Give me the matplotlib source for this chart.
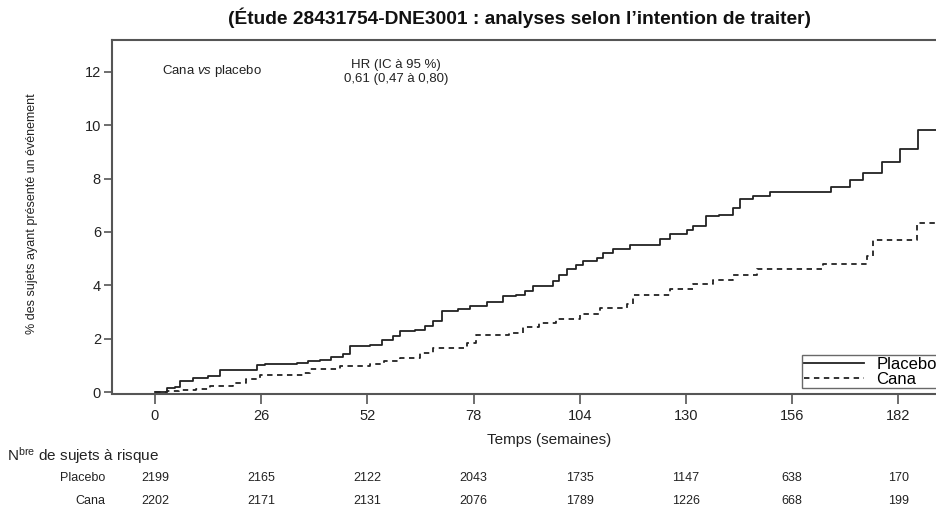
import matplotlib
matplotlib.use("Agg")
import matplotlib.pyplot as plt
from matplotlib import font_manager

# regular Arial look-alike everywhere, narrow bold for the title
names = {f.name for f in font_manager.fontManager.ttflist}
narrow = "Liberation Sans Narrow" if "Liberation Sans Narrow" in names else "Liberation Sans"
plt.rcParams['font.family'] = ['Liberation Sans', 'DejaVu Sans']
plt.rcParams['mathtext.fontset'] = 'custom'
plt.rcParams['mathtext.rm'] = 'Liberation Sans'
plt.rcParams['mathtext.it'] = 'Liberation Sans:italic'

# Kaplan-Meier steps (weeks, % with event)
placebo_t = [0, 2.9, 4.9, 6.1, 9.4, 13.0, 15.9, 24.9, 27.0, 34.7, 37.5, 40.4, 43.0, 46.1, 47.7,
             52.6, 55.5, 58.3, 60.0, 63.6, 66.0, 68.1, 70.2, 74.2, 77.1, 81.2, 85.3, 88.5,
             90.5, 92.6, 97.5, 99.0, 100.8, 103.0, 104.9, 108.1, 109.7, 112.2, 116.3, 123.6,
             126.1, 130.2, 131.8, 135.0, 138.2, 141.6, 143.2, 146.5, 150.6, 165.6, 170.1,
             173.4, 177.9, 182.4, 186.9, 191.5]
placebo_y = [0, 0.16, 0.21, 0.42, 0.55, 0.62, 0.83, 1.02, 1.05, 1.10, 1.17, 1.23, 1.32, 1.42, 1.73,
             1.79, 1.95, 2.10, 2.29, 2.35, 2.50, 2.67, 3.04, 3.12, 3.22, 3.38, 3.60, 3.66,
             3.80, 3.97, 4.16, 4.38, 4.60, 4.75, 4.91, 5.03, 5.22, 5.35, 5.53, 5.72,
             5.91, 6.06, 6.22, 6.59, 6.65, 6.90, 7.24, 7.34, 7.49, 7.69, 7.96,
             8.21, 8.61, 9.11, 9.83, 9.83]

cana_t = [0, 3.0, 6.0, 10.0, 13.5, 19.2, 22.4, 25.7, 36.3, 37.9, 45.3, 52.6, 56.0, 60.0, 64.9,
          68.1, 76.3, 78.7, 86.7, 90.2, 94.0, 98.3, 104.0, 108.9, 115.5, 117.1, 126.1, 131.8,
          136.7, 141.6, 147.3, 163.6, 174.2, 175.8, 186.5, 191.5]
cana_y = [0, 0.05, 0.10, 0.12, 0.24, 0.36, 0.51, 0.67, 0.72, 0.86, 0.98, 1.08, 1.18, 1.30, 1.46,
          1.67, 1.85, 2.13, 2.23, 2.45, 2.58, 2.75, 2.92, 3.17, 3.29, 3.63, 3.85, 4.04,
          4.20, 4.41, 4.60, 4.79, 5.10, 5.69, 6.32, 6.32]

weeks = [0, 26, 52, 78, 104, 130, 156, 182]
risk_placebo = [2199, 2165, 2122, 2043, 1735, 1147, 638, 170]
risk_cana = [2202, 2171, 2131, 2076, 1789, 1226, 668, 199]

W, H = 936, 514
fig = plt.figure(figsize=(W / 100, H / 100), dpi=100)
ax = fig.add_axes([112 / W, 1 - 393.5 / H, 1 - 112 / W, (393.5 - 40) / H])

ink = '#222222'
ax.step(placebo_t, placebo_y, where='post', color=ink, lw=1.3, label='Placebo')
ax.step(cana_t, cana_y, where='post', color=ink, lw=1.3, ls=(0, (3, 2.5)), label='Cana')

ax.set_xlim(-10.5, 191.2)
ax.set_ylim(-0.04, 13.18)
ax.set_xticks(weeks)
ax.set_yticks([0, 2, 4, 6, 8, 10, 12])
ax.tick_params(axis='x', length=7, width=1.2, color='#555555', labelsize=10.5, pad=4, labelcolor=ink)
ax.tick_params(axis='y', length=6, width=1.2, color='#555555', labelsize=10.5, pad=2, labelcolor=ink)
for s in ['left', 'top', 'bottom']:
    ax.spines[s].set_color('#555555')
    ax.spines[s].set_linewidth(1.5)
ax.spines['right'].set_visible(False)

leg = ax.legend(loc='upper left', bbox_to_anchor=(802 / W, 1 - 355 / H),
                bbox_transform=fig.transFigure, handlelength=3.6,
                handletextpad=0.75, borderpad=0.1, labelspacing=0.0, fancybox=False,
                frameon=True, borderaxespad=0, prop={'family': 'Liberation Sans', 'size': 12})
leg.get_frame().set_edgecolor('#444444')
leg.get_frame().set_linewidth(1.0)

fig.text(520 / W, 1 - 18 / H, "(Étude 28431754-DNE3001 : analyses selon l\u2019intention de traiter)",
         ha='center', va='center', fontsize=13.8, fontweight='bold', color='#111111',
         family=[narrow, 'DejaVu Sans'])
fig.text(162 / W, 1 - 71 / H, "Cana $\\it{vs}$ placebo", ha='left', va='center', fontsize=9.5,
         color=ink)
fig.text(396 / W, 1 - 65 / H, "HR (IC à 95 %)", ha='center', va='center', fontsize=9.5, color=ink)
fig.text(396 / W, 1 - 79 / H, "0,61 (0,47 à 0,80)", ha='center', va='center', fontsize=9.5, color=ink)
fig.text(32 / W, 1 - 214 / H, "% des sujets ayant présenté un événement", rotation=90,
         ha='center', va='center', fontsize=9, color=ink)
fig.text(549 / W, 1 - 440 / H, "Temps (semaines)", ha='center', va='center', fontsize=11, color=ink)
fig.text(7 / W, 1 - 456 / H, "N$^{\\mathrm{bre}}$ de sujets à risque", ha='left', va='center',
         fontsize=11, color=ink)

# number-at-risk table, columns on the x ticks
for row, (name, vals) in enumerate([("Placebo", risk_placebo), ("Cana", risk_cana)]):
    ypix = 478 + row * 23
    fig.text(105 / W, 1 - ypix / H, name, ha='right', va='center', fontsize=9, color=ink)
    for wk, v in zip(weeks, vals):
        xf = fig.transFigure.inverted().transform(ax.transData.transform((wk, 0)))[0]
        fig.text(xf, 1 - ypix / H, str(v), ha='center', va='center', fontsize=9, color=ink)

fig.savefig('out.png', dpi=100)
